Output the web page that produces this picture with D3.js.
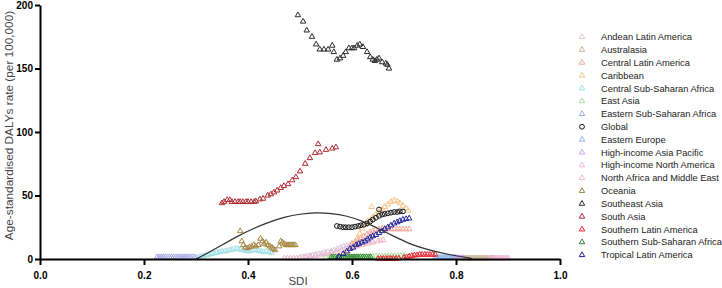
<!DOCTYPE html>
<html>
<head>
<meta charset="utf-8">
<script src="https://cdn.jsdelivr.net/npm/d3@7"></script>
<style>
body { margin: 0; background: #fff; }
text { font-family: "Liberation Sans", Arial, sans-serif; }
</style>
</head>
<body>
<svg id="chart" width="722" height="288"></svg>
<script>
// [SDI, age-standardised DALYs rate] per region
const andeanLatinAmerica = [[0.500,1],[0.506,1.5],[0.512,2],[0.518,2.5],[0.524,3],[0.530,3.5],[0.536,4],[0.542,4.5],[0.548,5],[0.554,5.5],[0.560,6],[0.566,7],[0.572,8],[0.578,9],[0.584,10],[0.590,10.5],[0.596,11],[0.602,11.5],[0.608,12],[0.614,12.5],[0.620,13],[0.626,13],[0.632,13.5],[0.638,14]];
const australasia = [[0.810,0.5],[0.813,0.5],[0.816,0.5],[0.819,0.5],[0.822,0.5],[0.825,0.5],[0.828,0.5],[0.831,0.5],[0.834,0.5],[0.837,0.5],[0.840,0.5],[0.843,0.5],[0.846,0.5],[0.849,0.5],[0.852,0.5],[0.855,0.5],[0.858,0.5],[0.861,0.5],[0.864,0.5],[0.867,0.5],[0.870,0.5],[0.873,0.5]];
const centralLatinAmerica = [[0.600,12],[0.606,13.5],[0.612,15],[0.617,16.5],[0.623,18],[0.629,19.5],[0.635,21],[0.640,22],[0.646,23],[0.652,23.5],[0.658,24],[0.663,24],[0.669,23.5],[0.675,23.5],[0.681,23.5],[0.687,23.5],[0.692,23.5],[0.698,23.5],[0.704,23.5],[0.710,23.5]];
const caribbean = [[0.585,3],[0.592,6],[0.598,9],[0.604,12],[0.610,16],[0.615,20],[0.620,24],[0.625,27],[0.630,30],[0.638,41],[0.640,33],[0.646,35],[0.652,37],[0.658,39],[0.663,41],[0.669,43],[0.675,45],[0.681,46],[0.687,45.5],[0.692,44],[0.698,42],[0.704,40],[0.708,38]];
const centralSubSaharanAfrica = [[0.300,1],[0.305,1.5],[0.310,2],[0.315,2.5],[0.320,3],[0.325,3.5],[0.330,4],[0.335,4.5],[0.340,5],[0.345,5.5],[0.350,6],[0.355,6],[0.360,6.5],[0.365,7],[0.370,7.5],[0.375,8],[0.380,8],[0.385,7.5],[0.390,7],[0.395,6.5],[0.400,6],[0.405,6.5],[0.410,7],[0.415,7],[0.420,6.5],[0.425,6],[0.430,5.5],[0.435,6],[0.440,5.5],[0.445,5]];
const eastAsia = [[0.550,1],[0.556,1],[0.562,1],[0.568,1.2],[0.574,1.2],[0.580,1.4],[0.586,1.4],[0.592,1.5],[0.598,1.5],[0.604,1.6],[0.610,1.6],[0.616,1.8],[0.622,1.8],[0.628,2],[0.634,2],[0.640,2],[0.646,2.2],[0.652,2.2],[0.658,2.3],[0.664,2.3],[0.670,2.4],[0.676,2.4],[0.682,2.5],[0.688,2.5],[0.694,2.5],[0.700,2.5]];
const easternSubSaharanAfrica = [[0.225,1.5],[0.229,1.5],[0.233,1.5],[0.237,1.5],[0.241,1.5],[0.245,1.5],[0.249,1.5],[0.253,1.5],[0.257,1.5],[0.261,1.5],[0.265,1.5],[0.269,1.5],[0.273,1.5],[0.277,1.5],[0.281,1.5],[0.285,1.5],[0.289,1.5],[0.293,1.5],[0.297,1.5]];
const global = [[0.571,26],[0.577,25.5],[0.583,25],[0.588,25],[0.594,25],[0.600,25],[0.606,25.5],[0.612,26],[0.617,26.5],[0.623,27],[0.629,28],[0.635,29.5],[0.640,31],[0.646,32.5],[0.652,34],[0.658,35],[0.663,35.5],[0.669,36],[0.675,36.5],[0.681,37],[0.687,37],[0.692,37.5],[0.698,37.5],[0.652,39]];
const easternEurope = [[0.760,1],[0.763,1],[0.766,1],[0.769,1],[0.772,1],[0.775,1],[0.778,1],[0.781,1],[0.784,1],[0.787,1],[0.790,1],[0.793,1],[0.796,1],[0.799,1]];
const highIncomeAsiaPacific = [[0.795,0.8],[0.798,0.8],[0.801,0.8],[0.804,0.8],[0.807,0.8],[0.810,0.8],[0.813,0.8]];
const highIncomeNorthAmerica = [[0.865,0.5],[0.868,0.5],[0.871,0.5],[0.874,0.5],[0.877,0.5],[0.880,0.5],[0.883,0.5],[0.886,0.5],[0.889,0.5],[0.892,0.5],[0.895,0.5],[0.898,0.5],[0.901,0.5]];
const northAfricaMiddleEast = [[0.470,0.5],[0.476,0.5],[0.482,0.5],[0.488,0.5],[0.494,0.5],[0.500,1],[0.510,1.5],[0.520,2],[0.530,2.5],[0.540,3],[0.550,4],[0.560,5],[0.570,6],[0.580,7],[0.590,8],[0.600,9],[0.610,10],[0.620,11],[0.630,12],[0.640,13],[0.650,14],[0.655,14.5],[0.660,15]];
const oceania = [[0.385,22],[0.388,14],[0.391,11],[0.395,9],[0.399,8.5],[0.403,9.5],[0.407,10],[0.411,11],[0.415,10],[0.420,11],[0.424,16],[0.428,14],[0.431,12],[0.435,13],[0.438,11],[0.442,10],[0.446,9],[0.449,8],[0.452,7],[0.460,10],[0.463,14],[0.466,13],[0.470,12],[0.473,11],[0.476,11],[0.479,11],[0.482,11],[0.485,11],[0.488,11],[0.491,11]];
const southeastAsia = [[0.496,192],[0.506,187],[0.513,180],[0.523,175],[0.531,169],[0.538,165],[0.546,165],[0.554,165],[0.562,168],[0.565,163],[0.571,157],[0.577,158],[0.583,160],[0.588,163],[0.594,166],[0.600,166],[0.604,166],[0.610,168],[0.615,169],[0.621,167],[0.629,163],[0.635,159],[0.640,157],[0.644,156],[0.648,157],[0.652,158],[0.658,155],[0.665,154],[0.668,153],[0.671,150]];
const southAsia = [[0.350,44],[0.354,45],[0.360,46.5],[0.365,46.5],[0.369,45],[0.375,45],[0.381,45],[0.385,45],[0.390,45],[0.396,45],[0.400,45],[0.406,45],[0.412,45],[0.415,45.5],[0.423,47],[0.429,47.5],[0.438,50],[0.444,51],[0.450,52.5],[0.456,54],[0.463,56],[0.469,57.5],[0.477,59],[0.485,62],[0.492,64.5],[0.500,69],[0.510,75],[0.519,79.5],[0.529,83.5],[0.535,90.5],[0.538,84],[0.550,86],[0.562,87],[0.569,88]];
const southernLatinAmerica = [[0.650,0.3],[0.655,0.3],[0.660,0.3],[0.665,0.3],[0.670,0.3],[0.675,0.3],[0.680,0.3],[0.685,0.3],[0.690,0.5],[0.700,1],[0.705,1.5],[0.710,2],[0.715,2.5],[0.720,3],[0.725,3],[0.730,3.5],[0.735,3.5],[0.740,3.5],[0.745,3.5],[0.750,3.5],[0.755,3.5],[0.760,3.5]];
const southernSubSaharanAfrica = [[0.560,1.5],[0.564,1.5],[0.568,1.5],[0.572,1.5],[0.576,1.5],[0.580,1.5],[0.584,1.5],[0.588,1.5],[0.592,1.5],[0.596,1.5],[0.600,1.5],[0.604,1.5],[0.608,1.5],[0.612,1.5],[0.616,1.5],[0.620,1.5],[0.624,1.5],[0.628,1.5],[0.632,1.5],[0.636,1.5]];
const tropicalLatinAmerica = [[0.575,2],[0.583,4],[0.590,6],[0.596,8],[0.602,9],[0.608,11],[0.613,12],[0.619,13],[0.625,14],[0.630,15.5],[0.635,17],[0.640,18],[0.646,19],[0.652,20.5],[0.658,22],[0.663,23.5],[0.669,25],[0.675,26.5],[0.681,28],[0.687,29],[0.692,30],[0.698,31],[0.704,31.5],[0.710,32]];

// fitted curve through all points
const fitSdi = [0.300,0.320,0.350,0.380,0.410,0.440,0.470,0.500,0.530,0.560,0.590,0.620,0.650,0.680,0.710,0.740,0.770,0.800,0.830];
const fitVal = [0,4,11,18,24,29,33,35.5,36.5,36,34,30,24,18,12,8,5,2.5,0.5];

const regionNames = ['Andean Latin America','Australasia','Central Latin America','Caribbean','Central Sub-Saharan Africa','East Asia','Eastern Sub-Saharan Africa','Global','Eastern Europe','High-income Asia Pacific','High-income North America','North Africa and Middle East','Oceania','Southeast Asia','South Asia','Southern Latin America','Southern Sub-Saharan Africa','Tropical Latin America'];
const regionData = [andeanLatinAmerica,australasia,centralLatinAmerica,caribbean,centralSubSaharanAfrica,eastAsia,easternSubSaharanAfrica,global,easternEurope,highIncomeAsiaPacific,highIncomeNorthAmerica,northAfricaMiddleEast,oceania,southeastAsia,southAsia,southernLatinAmerica,southernSubSaharanAfrica,tropicalLatinAmerica];
const regionColors = ['#d6c6e4','#c8b493','#f2a59c','#f4c486','#9fdfe6','#a6dd9c','#a8a8e8','#111111','#8cb8ec','#c4a6ec','#f3b4d8','#f2b7c6','#a4863f','#2a2a2a','#b02a30','#e8222a','#2f8a2f','#23239a'];

const svg = d3.select('svg#chart');
const x = d3.scaleLinear().domain([0, 1]).range([40, 560]);
const y = d3.scaleLinear().domain([0, 200]).range([259, 5]);

const tri = d3.symbol().type(d3.symbolTriangle).size(13);
const circ = d3.symbol().type(d3.symbolCircle).size(18);

// points
regionData.forEach((pts, i) => {
	svg.append('g')
		.selectAll('path')
		.data(pts)
		.join('path')
		.attr('d', regionNames[i] === 'Global' ? circ : tri)
		.attr('transform', d => `translate(${x(d[0])},${y(d[1])})`)
		.attr('fill', 'none')
		.attr('stroke', regionColors[i])
		.attr('stroke-width', 1);
});

// fit line
const fitLine = d3.line().curve(d3.curveBasis)
	.x((d, i) => x(fitSdi[i]))
	.y(d => y(d));
svg.append('path')
	.attr('d', fitLine(fitVal))
	.attr('fill', 'none')
	.attr('stroke', '#333')
	.attr('stroke-width', 1.2);

// axes
const xAxis = svg.append('g')
	.attr('transform', `translate(0,${y(0)})`)
	.call(d3.axisBottom(x).tickValues([0, 0.2, 0.4, 0.6, 0.8, 1]).tickFormat(d3.format('.1f')).tickSize(6).tickSizeOuter(0));
const yAxis = svg.append('g')
	.attr('transform', `translate(${x(0)},0)`)
	.call(d3.axisLeft(y).tickValues([0, 50, 100, 150, 200]).tickSize(5).tickSizeOuter(0));
[xAxis, yAxis].forEach(g => {
	g.select('.domain').attr('stroke', '#000').attr('stroke-width', 2);
	g.selectAll('.tick line').attr('stroke', '#000').attr('stroke-width', 2);
	g.selectAll('.tick text')
		.attr('fill', '#000')
		.style('font-size', '10px')
		.style('font-weight', 'bold')
		.style('font-family', '"Liberation Sans", Arial, sans-serif');
});
xAxis.selectAll('.tick text').attr('dy', '1.1em');
yAxis.selectAll('.tick text').attr('x', -7);

svg.append('text')
	.attr('x', 298).attr('y', 285)
	.attr('text-anchor', 'middle')
	.attr('fill', '#444')
	.style('font-size', '11.5px')
	.text('SDI');

svg.append('text')
	.attr('transform', `translate(13,${(5 + 246) / 2}) rotate(-90)`)
	.attr('text-anchor', 'middle')
	.attr('fill', '#444')
	.style('font-size', '11.8px')
	.text('Age-standardised DALYs rate (per 100,000)');

// legend
const legend = svg.append('g');
const rowY = d3.scalePoint().domain(regionNames).range([37, 255]);
regionNames.forEach((name, i) => {
	legend.append('path')
		.attr('d', name === 'Global' ? circ : tri)
		.attr('transform', `translate(582,${rowY(name)})`)
		.attr('fill', 'none')
		.attr('stroke', regionColors[i])
		.attr('stroke-width', 1);
	legend.append('text')
		.attr('x', 601).attr('y', rowY(name))
		.attr('dy', '0.35em')
		.attr('fill', '#222')
		.style('font-size', '9.3px')
		.text(name);
});
</script>
</body>
</html>
